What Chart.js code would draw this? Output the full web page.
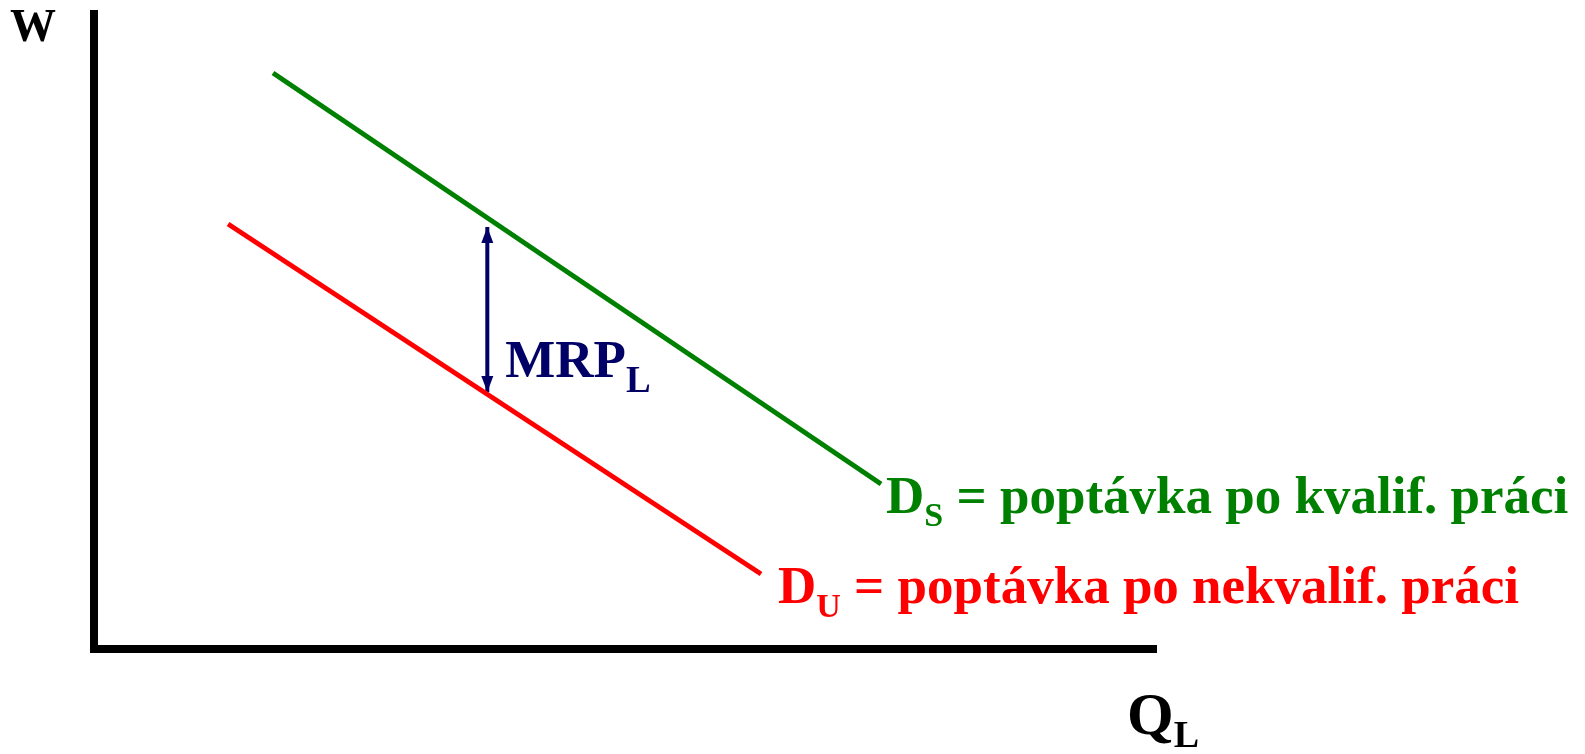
<!DOCTYPE html>
<html><head><meta charset="utf-8">
<script src="https://cdn.jsdelivr.net/npm/chart.js@4"></script>
<style>html,body{margin:0;padding:0;background:#fff;overflow:hidden}</style>
</head><body>
<canvas id="c" width="1585" height="754"></canvas>
<script>
// Axis frame (quantity of labour, wage), schematic units 0..100
const axisQ = [0, 0, 100];
const axisW = [100, 0, 0];
// Demand for skilled labour (D_S)
const skilledQ = [16.84, 74.04];
const skilledW = [90.14, 25.82];
// Demand for unskilled labour (D_U)
const unskilledQ = [12.61, 62.75];
const unskilledW = [66.51, 11.74];
// MRP_L gap arrow
const mrpQ = [37.0, 37.0];
const mrpW = [66.04, 40.22];

const yLabel = 'W';
const xLabel = ['Q', 'L'];
const skilledLabel = ['D', 'S', ' = poptávka po kvalif. práci'];
const unskilledLabel = ['D', 'U', ' = poptávka po nekvalif. práci'];
const mrpLabel = ['MRP', 'L'];

const GREEN = '#008000', RED = '#ff0000', NAVY = '#000066', BLACK = '#000000';
const FONT = '"Liberation Serif", "Times New Roman", serif';

function pts(xs, ys) { return xs.map((x, i) => ({x: x, y: ys[i]})); }

function drawSub(ctx, x, y, parts, color, big, small, drop) {
  ctx.fillStyle = color;
  ctx.textBaseline = 'alphabetic';
  ctx.textAlign = 'left';
  ctx.font = 'bold ' + big + 'px ' + FONT;
  ctx.fillText(parts[0], x, y);
  x += ctx.measureText(parts[0]).width;
  ctx.font = 'bold ' + small + 'px ' + FONT;
  ctx.fillText(parts[1], x, y + drop);
  x += ctx.measureText(parts[1]).width;
  if (parts[2]) {
    ctx.font = 'bold ' + big + 'px ' + FONT;
    ctx.fillText(parts[2], x, y);
  }
}

const annot = {
  id: 'annot',
  afterDatasetsDraw(chart) {
    const ctx = chart.ctx;
    const xs = chart.scales.x, ys = chart.scales.y;
    ctx.save();
    // arrowheads for MRP arrow
    const meta = chart.getDatasetMeta(3);
    const p0 = meta.data[0], p1 = meta.data[1];
    ctx.fillStyle = NAVY;
    const hw = 6, hh = 16;
    [[p0, 1], [p1, -1]].forEach(([p, dir]) => {
      ctx.beginPath();
      ctx.moveTo(p.x, p.y);
      ctx.lineTo(p.x - hw, p.y + dir * hh);
      ctx.lineTo(p.x + hw, p.y + dir * hh);
      ctx.closePath();
      ctx.fill();
    });
    // axis labels
    const ox = xs.getPixelForValue(0), oy = ys.getPixelForValue(0);
    const topY = ys.getPixelForValue(100), endX = xs.getPixelForValue(100);
    ctx.fillStyle = BLACK;
    ctx.font = 'bold 46px ' + FONT;
    ctx.fillText(yLabel, ox - 84, topY + 31);
    drawSub(ctx, endX - 30, oy + 85, xLabel, BLACK, 60, 38, 13);
    // MRP label
    drawSub(ctx, xs.getPixelForValue(mrpQ[0]) + 18, ys.getPixelForValue(mrpW[1]) - 15, mrpLabel, NAVY, 53, 37, 15);
    // curve labels
    drawSub(ctx, xs.getPixelForValue(skilledQ[1]) + 5, ys.getPixelForValue(skilledW[1]) + 29, skilledLabel, GREEN, 53, 34, 13);
    drawSub(ctx, xs.getPixelForValue(unskilledQ[1]) + 17, ys.getPixelForValue(unskilledW[1]) + 29, unskilledLabel, RED, 53, 34, 14);
    ctx.restore();
  }
};

new Chart(document.getElementById('c'), {
  type: 'scatter',
  data: {
    datasets: [
      {data: pts(axisQ, axisW), showLine: true, borderColor: BLACK, borderWidth: 8, borderJoinStyle: 'miter', borderCapStyle: 'butt', pointRadius: 0, clip: false},
      {data: pts(skilledQ, skilledW), showLine: true, borderColor: GREEN, borderWidth: 5, pointRadius: 0, clip: false},
      {data: pts(unskilledQ, unskilledW), showLine: true, borderColor: RED, borderWidth: 5, pointRadius: 0, clip: false},
      {data: pts(mrpQ, mrpW), showLine: true, borderColor: NAVY, borderWidth: 4, pointRadius: 0, clip: false}
    ]
  },
  options: {
    responsive: false,
    animation: false,
    devicePixelRatio: 1,
    layout: {padding: {left: 94, right: 428, top: 10, bottom: 105}},
    plugins: {legend: {display: false}, tooltip: {enabled: false}},
    scales: {
      x: {type: 'linear', min: 0, max: 100, display: false},
      y: {type: 'linear', min: 0, max: 100, display: false}
    }
  },
  plugins: [annot]
});
</script>
</body></html>
